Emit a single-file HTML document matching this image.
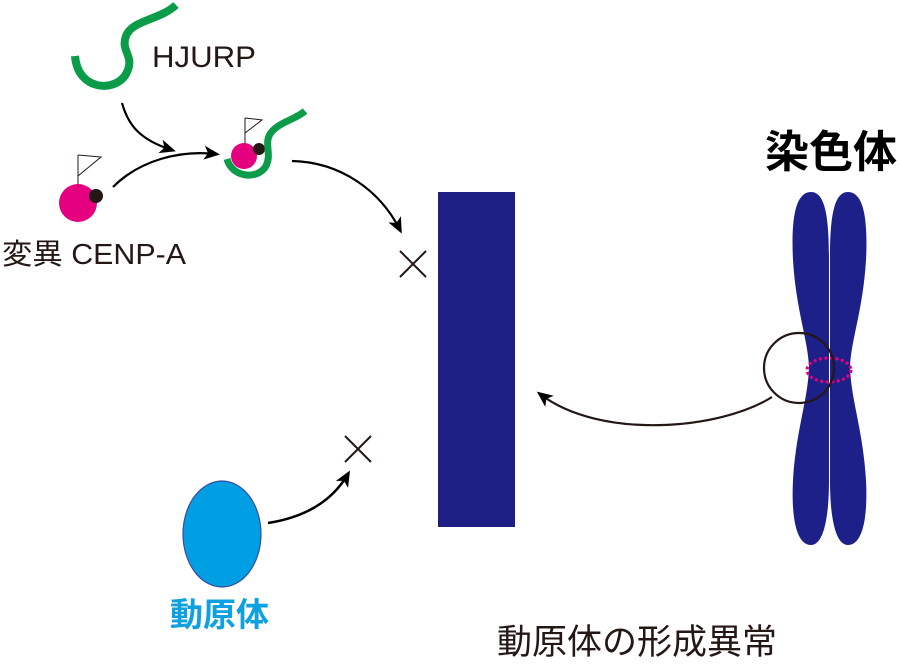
<!DOCTYPE html>
<html><head><meta charset="utf-8"><style>
html,body{margin:0;padding:0;background:#fff;}
svg{display:block;}
text{font-family:"Liberation Sans","Noto Sans CJK JP",sans-serif;}
</style></head><body>
<svg width="900" height="667" viewBox="0 0 900 667" xmlns="http://www.w3.org/2000/svg">
<defs>
<marker id="ah2" markerWidth="16" markerHeight="16" refX="12" refY="8" orient="auto" markerUnits="userSpaceOnUse" viewBox="0 0 16 16">
<path d="M0,1 L16,8 L0,15 L4,8 Z" fill="#000"/>
</marker>
</defs>
<!-- HJURP -->
<path d="M176 5 C160 20 132 20 126 36 C120 52 136 56 126 74 C116 92 78 92 75 56" fill="none" stroke="#0a9c48" stroke-width="8"/>
<text x="152" y="67" font-size="30" fill="#231815" textLength="104" lengthAdjust="spacingAndGlyphs">HJURP</text>
<!-- arrows top -->
<path d="M122 103 C128 125 140 140 172 150" fill="none" stroke="#000" stroke-width="2.2" marker-end="url(#ah2)"/>
<path d="M113 187 C140 160 180 150 216 154" fill="none" stroke="#000" stroke-width="2.2" marker-end="url(#ah2)"/>
<!-- CENP-A -->
<line x1="78" y1="155" x2="78" y2="185" stroke="#231815" stroke-width="1"/>
<path d="M78 155 L101 157 L78 176" fill="none" stroke="#231815" stroke-width="1"/>
<circle cx="78" cy="203" r="19" fill="#e4007f"/>
<circle cx="96" cy="196" r="7" fill="#231815"/>
<text x="2" y="264" font-size="29" fill="#231815" textLength="184" lengthAdjust="spacingAndGlyphs">変異 CENP-A</text>
<!-- complex -->
<line x1="245" y1="118" x2="245" y2="145" stroke="#231815" stroke-width="1"/>
<path d="M245 118 L262 120 L245 133" fill="none" stroke="#231815" stroke-width="1"/>
<circle cx="244" cy="156" r="13" fill="#e4007f"/>
<circle cx="259" cy="149" r="6" fill="#231815"/>
<path d="M227 159 C232 178 258 180 266 166 C272 154 264 144 270 134 C278 122 295 120 305 111" fill="none" stroke="#0a9c48" stroke-width="7"/>
<!-- arrow to X -->
<path d="M292 161 C340 162 380 190 400 230" fill="none" stroke="#000" stroke-width="2.2" marker-end="url(#ah2)"/>
<path d="M400 251 L426 277 M426 251 L400 277" stroke="#231815" stroke-width="2"/>
<!-- rect -->
<rect x="438" y="192" width="77" height="335" fill="#1d1f85"/>
<!-- X2 -->
<path d="M345 436 L371 462 M371 436 L345 462" stroke="#231815" stroke-width="2"/>
<path d="M268 523 C300 518 330 505 348 474" fill="none" stroke="#000" stroke-width="2.5" marker-end="url(#ah2)"/>
<!-- kinetochore -->
<ellipse cx="222" cy="534" rx="39" ry="53" fill="#009fe3" stroke="#3a4a9c" stroke-width="1.2"/>
<text x="170" y="626" font-size="33" font-weight="bold" fill="#0ea0e0">動原体</text>
<text x="497" y="654" font-size="35" fill="#231815">動原体の形成異常</text>
<!-- chromosome -->
<text x="765" y="167" font-size="44" font-weight="bold" fill="#000">染色体</text>
<path d="M811 192 C795 192 791 220 793 260 C796 310 808 340 809 367 C808 400 796 430 793 480 C791 520 797 545 811 545 C823 545 829 520 829 480 L829 260 C829 220 826 192 811 192 Z" fill="#1d2088"/>
<path d="M848 192 C864 192 868 220 866 260 C863 310 851 340 850 367 C851 400 863 430 866 480 C868 520 862 545 848 545 C836 545 830 520 830 480 L830 260 C830 220 833 192 848 192 Z" fill="#1d2088"/>
<ellipse cx="829" cy="370" rx="22" ry="12" fill="none" stroke="#e4007f" stroke-width="3" stroke-dasharray="3 2.5"/>
<circle cx="799" cy="368" r="35" fill="none" stroke="#231815" stroke-width="2.2"/>
<path d="M772 397 C720 430 600 440 540 394" fill="none" stroke="#231815" stroke-width="2.2" marker-end="url(#ah2)"/>
</svg>
</body></html>
